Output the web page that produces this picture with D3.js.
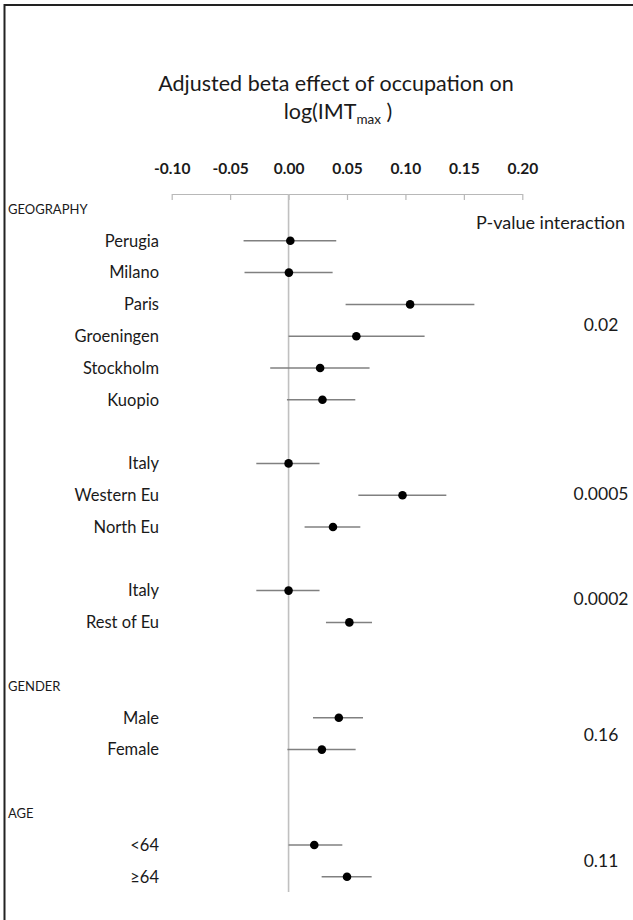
<!DOCTYPE html>
<html>
<head>
<meta charset="utf-8">
<script src="https://cdn.jsdelivr.net/npm/d3@7"></script>
<style>
  html, body { margin: 0; padding: 0; background: #fff; }
  svg { display: block; }
  text { font-family: Lato, "Open Sans", sans-serif; fill: #1a1a1a; }
</style>
</head>
<body>
<svg id="chart" width="633" height="920"></svg>
<script>
// ---- data ----
const titleLines = ["Adjusted beta effect of occupation on", "log(IMT"];
const xTicks = [-0.10, -0.05, 0.00, 0.05, 0.10, 0.15, 0.20];
const categories = ["Perugia", "Milano", "Paris", "Groeningen", "Stockholm", "Kuopio",
                    "Italy", "Western Eu", "North Eu",
                    "Italy", "Rest of Eu",
                    "Male", "Female",
                    "<64", "\u226564"];
const rowSlot   = [1, 2, 3, 4, 5, 6, 8, 9, 10, 12, 13, 16, 17, 20, 21];
const estimate  = [0.0015, 0.0003, 0.104, 0.058, 0.027, 0.029, 0.000, 0.0975, 0.038, 0.000, 0.052, 0.043, 0.0285, 0.022, 0.050];
const ciLow     = [-0.0385, -0.0377, 0.0488, 0.000, -0.0157, -0.0014, -0.0276, 0.0597, 0.0137, -0.0276, 0.032, 0.0209, -0.001, 0.000, 0.0283];
const ciHigh    = [0.0408, 0.0377, 0.159, 0.1164, 0.0693, 0.0571, 0.0265, 0.135, 0.0614, 0.0265, 0.0714, 0.0637, 0.0574, 0.046, 0.0711];
const headers   = ["GEOGRAPHY", "GENDER", "AGE"];
const headerSlot = [0, 15, 19];
const pHeader   = "P-value interaction";
const pValues   = ["0.02", "0.0005", "0.0002", "0.16", "0.11"];
const pSlot     = [3.65, 8.95, 12.25, 16.55, 20.5];

// ---- layout ----
const svg = d3.select("#chart");
const x = d3.scaleLinear().domain([-0.10, 0.20]).range([171.7, 522.3]);
const y = d3.scaleLinear().domain([0, 21]).range([209, 876.8]);
const axisY = 194;

// frame
svg.append("rect").attr("x", 4.5).attr("y", 5).attr("width", 700).attr("height", 1000)
  .attr("fill", "none").attr("stroke", "#222").attr("stroke-width", 2);

// title
svg.append("text").attr("x", 336).attr("y", 91).attr("text-anchor", "middle")
  .style("font-size", "21.5px").text(titleLines[0]);
const t2 = svg.append("text").attr("x", 338).attr("y", 119).attr("text-anchor", "middle")
  .style("font-size", "21.5px");
t2.append("tspan").text(titleLines[1]);
t2.append("tspan").attr("dy", 5).style("font-size", "13.5px").text("max");
t2.append("tspan").attr("dy", -5).text(" )");

// axis
const axis = d3.axisTop(x).tickValues(xTicks).tickFormat(d3.format(".2f"))
  .tickSizeInner(-6).tickSizeOuter(0).tickPadding(20);
const gAxis = svg.append("g").attr("transform", `translate(0,${axisY})`).call(axis);
gAxis.select(".domain").attr("stroke", "#b8b8b8").attr("stroke-width", 1.2);
gAxis.selectAll(".tick line").attr("stroke", "#b8b8b8").attr("stroke-width", 1.2);
gAxis.selectAll(".tick text").attr("fill", "#111")
  .style("font-family", "Lato, sans-serif").style("font-size", "15.5px").style("font-weight", "bold")
  .text(d => d3.format(".2f")(d).replace("\u2212", "-"));

// zero reference line
svg.append("line").attr("x1", x(0)).attr("x2", x(0)).attr("y1", axisY).attr("y2", 892)
  .attr("stroke", "#c0c0c0").attr("stroke-width", 1.6);

// headers
svg.append("g").selectAll("text").data(headers).join("text")
  .attr("x", 8).attr("y", (d, i) => y(headerSlot[i])).attr("dy", "0.35em")
  .style("font-size", "13px").text(d => d);

// row labels
svg.append("g").selectAll("text").data(categories).join("text")
  .attr("x", 159).attr("y", (d, i) => y(rowSlot[i])).attr("dy", "0.35em")
  .attr("text-anchor", "end").style("font-size", "16.5px").text(d => d);

// CI lines
svg.append("g").selectAll("line").data(categories).join("line")
  .attr("x1", (d, i) => x(ciLow[i])).attr("x2", (d, i) => x(ciHigh[i]))
  .attr("y1", (d, i) => y(rowSlot[i])).attr("y2", (d, i) => y(rowSlot[i]))
  .attr("stroke", "#808080").attr("stroke-width", 1.5);

// points
svg.append("g").selectAll("circle").data(categories).join("circle")
  .attr("cx", (d, i) => x(estimate[i])).attr("cy", (d, i) => y(rowSlot[i]))
  .attr("r", 4.3).attr("fill", "#000");

// p-values
svg.append("text").attr("x", 625).attr("y", 223).attr("dy", "0.35em").attr("text-anchor", "end")
  .style("font-size", "18px").text(pHeader);
svg.append("g").selectAll("text").data(pValues).join("text")
  .attr("x", 601).attr("y", (d, i) => y(pSlot[i])).attr("dy", "0.35em")
  .attr("text-anchor", "middle").style("font-size", "17.5px").text(d => d);
</script>
</body>
</html>
